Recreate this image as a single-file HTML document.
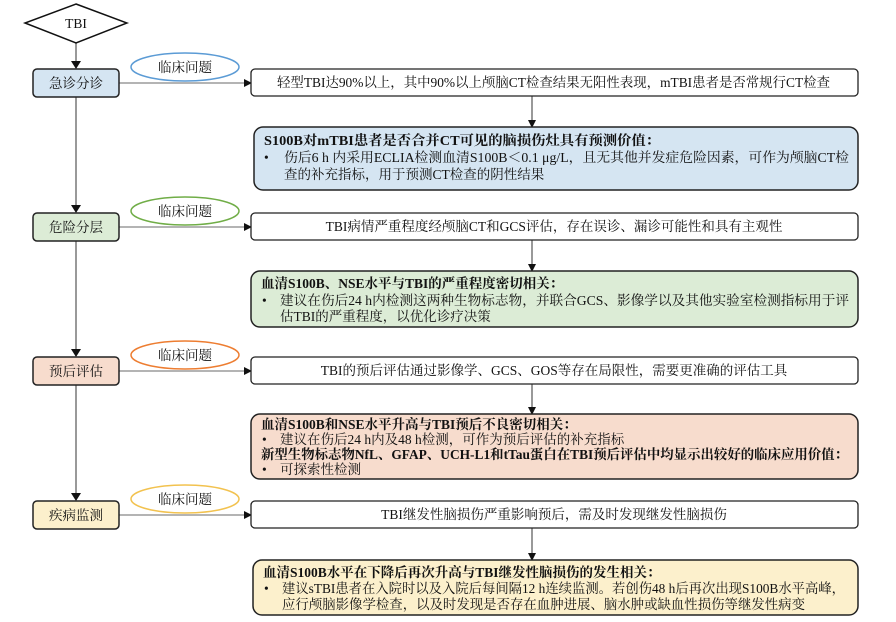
<!DOCTYPE html>
<html><head><meta charset="utf-8"><style>
html,body{margin:0;padding:0;background:#fff;}
svg{display:block;}
text{font-family:"Liberation Serif","Noto Serif CJK SC",serif;font-size:13.5px;fill:#111;}
.d{font-size:13.5px;}
.b{font-weight:bold;font-size:13.5px;}
</style></head><body>
<svg width="896" height="622" viewBox="0 0 896 622" xmlns="http://www.w3.org/2000/svg">
<defs><marker id="a" markerWidth="8" markerHeight="8" refX="7" refY="4" orient="auto" markerUnits="userSpaceOnUse"><path d="M0,0 L8,4 L0,8z" fill="#111"/></marker></defs>
<g stroke="#999" stroke-width="2" fill="none">
<line x1="76" y1="43" x2="76" y2="62"/>
<line x1="76" y1="97" x2="76" y2="206"/>
<line x1="76" y1="241" x2="76" y2="350"/>
<line x1="76" y1="385" x2="76" y2="494"/>
</g>
<g fill="#111">
<path d="M71,61 L81,61 L76,69z"/><path d="M71,205 L81,205 L76,213z"/><path d="M71,349 L81,349 L76,357z"/><path d="M71,493 L81,493 L76,501z"/>
</g>
<polygon points="76,4 127,23 76,43 25,23" fill="#fff" stroke="#111" stroke-width="1.5"/>
<text x="76" y="28" text-anchor="middle">TBI</text>
<g stroke="#888" stroke-width="1.3" marker-end="url(#a)">
<line x1="119" y1="83" x2="251" y2="83"/>
<line x1="119" y1="227" x2="251" y2="227"/>
<line x1="119" y1="371" x2="251" y2="371"/>
<line x1="119" y1="515" x2="251" y2="515"/>
</g>
<g stroke="#333" stroke-width="1" marker-end="url(#a)">
<line x1="532" y1="96" x2="532" y2="127"/>
<line x1="532" y1="240" x2="532" y2="271"/>
<line x1="532" y1="384" x2="532" y2="414"/>
<line x1="532" y1="528" x2="532" y2="560"/>
</g>
<g stroke="#222" stroke-width="1.5">
<rect x="33" y="69" width="86" height="28" rx="4" fill="#d5e5f2"/>
<rect x="33" y="213" width="86" height="28" rx="4" fill="#dcecd6"/>
<rect x="33" y="357" width="86" height="28" rx="4" fill="#f7dccd"/>
<rect x="33" y="501" width="86" height="28" rx="4" fill="#fcf0cc"/>
</g>
<g text-anchor="middle" style="font-size:14px">
<text x="76" y="88">急诊分诊</text>
<text x="76" y="232">危险分层</text>
<text x="76" y="376">预后评估</text>
<text x="76" y="520">疾病监测</text>
</g>
<ellipse cx="185" cy="67" rx="54" ry="14" fill="#fff" stroke="#5b9bd5" stroke-width="1.5"/>
<ellipse cx="185" cy="211" rx="54" ry="14" fill="#fff" stroke="#70ad47" stroke-width="1.5"/>
<ellipse cx="185" cy="355" rx="54" ry="14" fill="#fff" stroke="#ed7d31" stroke-width="1.5"/>
<ellipse cx="185" cy="499" rx="54" ry="14" fill="#fff" stroke="#f2c24f" stroke-width="1.5"/>
<g text-anchor="middle" style="font-size:14px"><text x="185" y="72">临床问题</text><text x="185" y="216">临床问题</text><text x="185" y="360">临床问题</text><text x="185" y="504">临床问题</text></g>
<g fill="#fff" stroke="#222" stroke-width="1.3">
<rect x="251" y="69" width="607" height="27" rx="4"/>
<rect x="251" y="213" width="607" height="27" rx="4"/>
<rect x="251" y="357" width="607" height="27" rx="4"/>
<rect x="251" y="501" width="607" height="27" rx="4"/>
</g>
<g style="font-size:14px">
<text x="277" y="87" textLength="553" lengthAdjust="spacingAndGlyphs">轻型TBI达90%以上，其中90%以上颅脑CT检查结果无阳性表现，mTBI患者是否常规行CT检查</text>
<text x="554" y="231" text-anchor="middle">TBI病情严重程度经颅脑CT和GCS评估，存在误诊、漏诊可能性和具有主观性</text>
<text x="554" y="375" text-anchor="middle">TBI的预后评估通过影像学、GCS、GOS等存在局限性，需要更准确的评估工具</text>
<text x="554" y="519" text-anchor="middle">TBI继发性脑损伤严重影响预后，需及时发现继发性脑损伤</text>
</g>
<g stroke="#222" stroke-width="1.5">
<rect x="254" y="127" width="604" height="63" rx="9" fill="#d5e5f2"/>
<rect x="251" y="271" width="607" height="56" rx="9" fill="#dcecd6"/>
<rect x="251" y="414" width="607" height="65" rx="9" fill="#f7dccd"/>
<rect x="253" y="560" width="605" height="55" rx="9" fill="#fcf0cc"/>
</g>
<text x="264" y="145" class="b" textLength="396" lengthAdjust="spacingAndGlyphs">S100B对mTBI患者是否合并CT可见的脑损伤灶具有预测价值：</text>
<text x="264" y="162" class="d">•</text><text x="284" y="162" class="d" textLength="565" lengthAdjust="spacingAndGlyphs">伤后6 h 内采用ECLIA检测血清S100B＜0.1 μg/L，且无其他并发症危险因素，可作为颅脑CT检</text>
<text x="284" y="179" class="d">查的补充指标，用于预测CT检查的阴性结果</text>
<text x="261" y="288" class="b">血清S100B、NSE水平与TBI的严重程度密切相关：</text>
<text x="262" y="305" class="d">•</text><text x="280" y="305" class="d" textLength="569" lengthAdjust="spacingAndGlyphs">建议在伤后24 h内检测这两种生物标志物，并联合GCS、影像学以及其他实验室检测指标用于评</text>
<text x="280" y="321" class="d">估TBI的严重程度，以优化诊疗决策</text>
<text x="261" y="429" class="b">血清S100B和NSE水平升高与TBI预后不良密切相关：</text>
<text x="262" y="444" class="d">•</text><text x="280" y="444" class="d">建议在伤后24 h内及48 h检测，可作为预后评估的补充指标</text>
<text x="261" y="459" class="b" textLength="587" lengthAdjust="spacingAndGlyphs">新型生物标志物NfL、GFAP、UCH-L1和tTau蛋白在TBI预后评估中均显示出较好的临床应用价值：</text>
<text x="262" y="474" class="d">•</text><text x="280" y="474" class="d">可探索性检测</text>
<text x="263" y="577" class="b">血清S100B水平在下降后再次升高与TBI继发性脑损伤的发生相关：</text>
<text x="264" y="593" class="d">•</text><text x="282" y="593" class="d" textLength="563" lengthAdjust="spacingAndGlyphs">建议sTBI患者在入院时以及入院后每间隔12 h连续监测。若创伤48 h后再次出现S100B水平高峰，</text>
<text x="282" y="609" class="d" textLength="523" lengthAdjust="spacingAndGlyphs">应行颅脑影像学检查，以及时发现是否存在血肿进展、脑水肿或缺血性损伤等继发性病变</text>
</svg>
</body></html>
